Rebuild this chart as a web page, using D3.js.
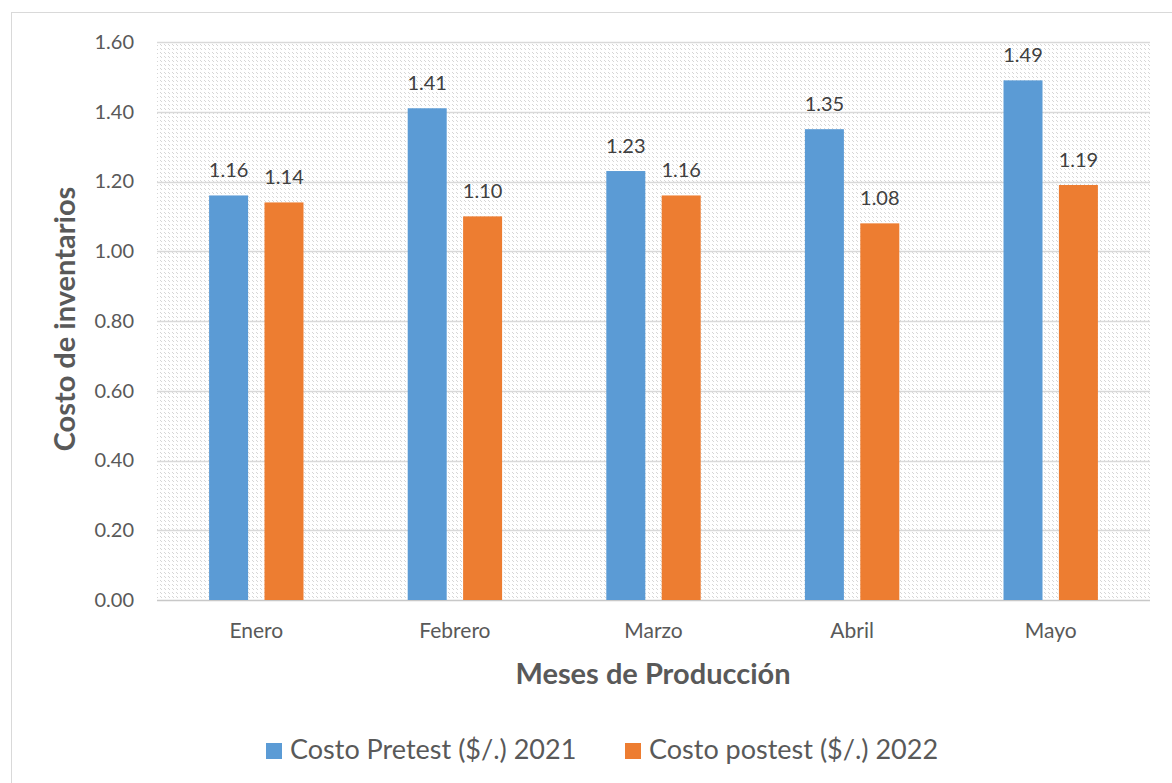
<!DOCTYPE html>
<html>
<head>
<meta charset="utf-8">
<script src="https://cdn.jsdelivr.net/npm/d3@7"></script>
<style>
  html, body { margin: 0; padding: 0; background: #fff; }
  svg { display: block; font-family: Lato, "Open Sans", sans-serif; }
</style>
</head>
<body>
<svg id="chart" width="1172" height="783"></svg>
<script>
// Monthly inventory cost, before and after
const months = ["Enero", "Febrero", "Marzo", "Abril", "Mayo"];
const pretest2021 = [1.16, 1.41, 1.23, 1.35, 1.49];
const postest2022 = [1.14, 1.10, 1.16, 1.08, 1.19];
const seriesNames = ["Costo Pretest ($/.) 2021", "Costo postest ($/.) 2022"];
const seriesColors = ["#5b9bd5", "#ed7d31"];
const yTicks = [0, 0.2, 0.4, 0.6, 0.8, 1.0, 1.2, 1.4, 1.6];

const svg = d3.select("#chart");
const plot = { left: 157, right: 1150, top: 42, bottom: 600 };

// outer frame
svg.append("rect")
  .attr("x", 11.5).attr("y", 12.5)
  .attr("width", 1172).attr("height", 800)
  .attr("fill", "#fff").attr("stroke", "#d9d9d9").attr("stroke-width", 1);

// sparse diagonal hatch for the plot area
const defs = svg.append("defs");
const pat = defs.append("pattern")
  .attr("id", "hatch").attr("patternUnits", "userSpaceOnUse")
  .attr("width", 8).attr("height", 8);
pat.append("rect").attr("width", 8).attr("height", 8).attr("fill", "#fff");
[[0,0],[1,1],[4,4],[5,5],[4,0],[5,1],[0,4],[1,5]].forEach(([px, py]) => {
  pat.append("rect").attr("x", px).attr("y", py).attr("width", 1).attr("height", 1).attr("fill", "#d6d6d6");
});

svg.append("rect")
  .attr("x", plot.left).attr("y", plot.top)
  .attr("width", plot.right - plot.left).attr("height", plot.bottom - plot.top)
  .attr("fill", "url(#hatch)");

const x = d3.scaleBand().domain(months).range([plot.left, plot.right]);
const y = d3.scaleLinear().domain([0, 1.6]).range([plot.bottom, plot.top]);

// gridlines
svg.append("g").selectAll("line").data(yTicks).join("line")
  .attr("x1", plot.left).attr("x2", plot.right)
  .attr("y1", d => Math.round(y(d)) + 0.5).attr("y2", d => Math.round(y(d)) + 0.5)
  .attr("stroke", d => d === 0 ? "#c8c8c8" : "#d9d9d9")
  .attr("stroke-width", 1.5);

// y axis labels
const yAxis = d3.axisLeft(y).tickValues(yTicks).tickFormat(d3.format(".2f")).tickSize(0).tickPadding(23);
const yg = svg.append("g").attr("transform", `translate(${plot.left},0)`).call(yAxis);
yg.select(".domain").remove();
yg.selectAll("text").attr("font-size", 20).attr("fill", "#595959").attr("font-family", "Lato, sans-serif");

// x axis labels
const xAxis = d3.axisBottom(x).tickSize(0).tickPadding(0);
const xg = svg.append("g").attr("transform", `translate(0,${plot.bottom})`).call(xAxis);
xg.select(".domain").remove();
xg.selectAll("text").attr("font-size", 21).attr("fill", "#595959").attr("font-family", "Lato, sans-serif")
  .attr("dy", null).attr("y", 38);

// bars
const barW = 39, offset = 27.7;
const series = [pretest2021, postest2022];
series.forEach((vals, si) => {
  const g = svg.append("g");
  const cx = (d, i) => x(months[i]) + x.bandwidth() / 2 + (si === 0 ? -offset : offset);
  g.selectAll("rect").data(vals).join("rect")
    .attr("x", (d, i) => cx(d, i) - barW / 2)
    .attr("y", d => y(d))
    .attr("width", barW)
    .attr("height", d => y(0) - y(d))
    .attr("fill", seriesColors[si]);
  g.selectAll("text").data(vals).join("text")
    .attr("x", (d, i) => cx(d, i))
    .attr("y", d => y(d) - 18)
    .attr("text-anchor", "middle")
    .attr("font-size", 20)
    .attr("fill", "#404040")
    .text(d => d.toFixed(2));
});

// axis titles
svg.append("text")
  .attr("transform", `translate(75,319) rotate(-90)`)
  .attr("text-anchor", "middle")
  .attr("font-size", 29).attr("font-weight", "bold").attr("fill", "#595959")
  .text("Costo de inventarios");

svg.append("text")
  .attr("x", 653).attr("y", 684)
  .attr("text-anchor", "middle")
  .attr("font-size", 29).attr("font-weight", "bold").attr("fill", "#595959")
  .text("Meses de Producción");

// legend
const legendX = [266, 625];
seriesNames.forEach((name, i) => {
  svg.append("rect")
    .attr("x", legendX[i]).attr("y", 743)
    .attr("width", 16).attr("height", 16)
    .attr("fill", seriesColors[i]);
  svg.append("text")
    .attr("x", legendX[i] + 24).attr("y", 759)
    .attr("font-size", 27).attr("fill", "#595959")
    .text(name);
});
</script>
</body>
</html>
